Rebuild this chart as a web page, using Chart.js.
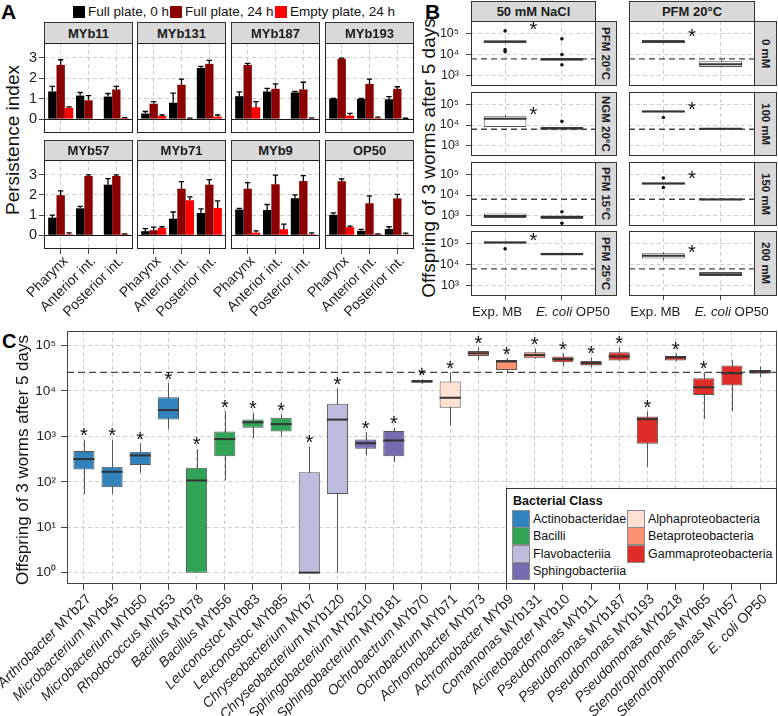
<!DOCTYPE html>
<html>
<head>
<meta charset="utf-8">
<script src="https://cdn.jsdelivr.net/npm/chart.js@4.4.1/dist/chart.umd.min.js"></script>
<style>
html,body{margin:0;padding:0;background:#fff;}
#root{position:relative;width:778px;height:716px;overflow:hidden;background:#fff;font-family:"Liberation Sans",Arial,Helvetica,sans-serif;color:#111;}
#root canvas{position:absolute;}
.lbl{position:absolute;white-space:nowrap;line-height:1;}
.strip{position:absolute;box-sizing:border-box;background:#d9d9d9;border:1px solid #333;font-weight:bold;color:#1a1a1a;display:flex;align-items:center;justify-content:center;white-space:nowrap;overflow:hidden;}
.vstrip{writing-mode:vertical-rl;}
.ytitle{position:absolute;white-space:nowrap;transform:translate(-50%,-50%) rotate(-90deg);line-height:1;color:#111;}
.key{position:absolute;box-sizing:border-box;border:1px solid #8a8a8a;}
.panelLetter{position:absolute;font-weight:bold;line-height:1;color:#000;}
</style>
</head>
<body>
<div id="root"></div>
<script>
// ======================= DATA =======================
// ---- Panel A ----
const regionsA = ["Pharynx", "Anterior int.", "Posterior int."];
const strainsA = ["MYb11", "MYb131", "MYb187", "MYb193", "MYb57", "MYb71", "MYb9", "OP50"];
const seriesA = ["Full plate, 0 h", "Full plate, 24 h", "Empty plate, 24 h"];
const full0hMean   = [[1.35,1.15,1.10],[0.27,0.80,2.50],[1.12,1.35,1.30],[1.00,0.98,0.97],[0.87,1.33,2.50],[0.20,0.82,1.10],[1.27,1.25,1.83],[1.01,0.22,0.31]];
const full0hUpper  = [[1.60,1.30,1.25],[0.37,1.27,2.58],[1.33,1.50,1.35],[1.01,1.01,1.10],[0.99,1.43,2.80],[0.33,1.15,1.30],[1.33,1.52,2.00],[1.11,0.29,0.42]];
const full24hMean  = [[2.65,0.92,1.45],[0.75,1.68,2.70],[2.65,1.48,1.45],[2.95,1.72,1.48],[1.98,2.93,2.93],[0.25,2.30,2.50],[2.30,2.52,2.68],[2.67,1.58,1.82]];
const full24hUpper = [[2.90,1.15,1.60],[0.85,1.95,2.87],[2.72,1.72,1.80],[2.98,1.95,1.58],[2.19,2.98,2.98],[0.40,2.65,2.75],[2.60,2.97,2.95],[2.78,1.95,2.02]];
const empty24hMean = [[0.55,0.00,0.05],[0.15,0.02,0.12],[0.58,0.00,0.03],[0.17,0.05,0.02],[0.05,0.00,0.05],[0.36,1.73,1.35],[0.13,0.30,0.05],[0.40,0.05,0.04]];
const empty24hUpper= [[0.60,0.00,0.07],[0.20,0.05,0.20],[0.85,0.00,0.06],[0.28,0.10,0.04],[0.12,0.00,0.07],[0.42,1.90,1.70],[0.22,0.55,0.12],[0.45,0.07,0.10]];
const colorsA = ["#000000", "#8B0000", "#FF0000"];
const ticksA = [0, 1, 2, 3];

// ---- Panel B ----
const groupsB = [[{t:"Exp. MB"}], [{t:"E. coli ", it:true}, {t:"OP50"}]];
const colStripsB = ["50 mM NaCl", "PFM 20°C"];
const rowStripsB = [["PFM 20°C", "NGM 20°C", "PFM 15°C", "PFM 25°C"], ["0 mM", "100 mM", "150 mM", "200 mM"]];
// facet order: col0 rows0-3, col1 rows0-3 ; [min, q1, median, q3, max]
const boxExpMB = [
  [34000, 34000, 40000, 47000, 47000],
  [8100, 8100, 20000, 26000, 30000],
  [800, 800, 1000, 1300, 1400],
  [98000, 98000, 110000, 122000, 122000],
  [34000, 34000, 40000, 48000, 48000],
  [41000, 41000, 45000, 49000, 49000],
  [32000, 32000, 36000, 40000, 40000],
  [16000, 19500, 26000, 34000, 38000]
];
const boxOP50 = [
  [5100, 5100, 6000, 6800, 6800],
  [5600, 5600, 7000, 8000, 8000],
  [720, 720, 900, 1050, 1050],
  [27000, 27000, 31000, 36000, 36000],
  [2400, 2600, 3500, 4800, 5500],
  [6000, 6000, 6600, 7200, 7200],
  [5700, 5700, 6200, 6800, 6800],
  [2900, 2900, 3500, 4500, 4500]
];
const outExpMB = [[130000, 17000, 13500], [], [], [55000], [], [23000], [65000, 23000], []];
const outOP50  = [[55000, 10000, 3300], [15000], [1600, 450], [], [], [], [], []];
const starB = [245000, 55000, null, 220000, 117000, 95000, 107000, 65000];
const refLineB = 6300;
const ticksB = [1e3, 1e4, 1e5];

// ---- Panel C ----
const genusC = ["Arthrobacter","Microbacterium","Microbacterium","Rhodococcus","Bacillus","Bacillus","Leuconostoc","Leuconostoc","Chryseobacterium","Chryseobacterium","Sphingobacterium","Sphingobacterium","Ochrobactrum","Ochrobactrum","Achromobacter","Achromobacter","Comamonas","Acinetobacter","Pseudomonas","Pseudomonas","Pseudomonas","Pseudomonas","Stenotrophomonas","Stenotrophomonas","E. coli"];
const strainC = ["MYb27","MYb45","MYb50","MYb53","MYb78","MYb56","MYb83","MYb85","MYb7","MYb120","MYb210","MYb181","MYb70","MYb71","MYb73","MYb9","MYb131","MYb10","MYb11","MYb187","MYb193","MYb218","MYb65","MYb57","OP50"];
const classC = [0,0,0,0,1,1,1,1,2,2,3,3,4,4,5,5,5,6,6,6,6,6,6,6,6];
const minC = [54,54,158,1445,1,107,912,1000,1,1,380,269,14454,1738,47863,24547,51286,34674,33113,46774,214,45709,2399,3631,19953];
const q1C  = [186,76,234,2344,1,363,1549,1288,1,54,537,363,15136,4266,58884,28840,52481,42658,36308,46774,692,46774,8128,13183,23988];
const medC = [316,166,380,3800,107,871,2042,1862,1,2344,708,813,16218,7079,67608,44668,61660,50119,40738,57544,2399,54954,12023,24547,26915];
const q3C  = [479,214,457,7244,204,1288,2344,2570,162,5248,851,1318,17378,16218,75858,47863,70795,57544,45709,70795,2754,58884,19055,36308,28840];
const maxC = [830,830,708,14791,525,3548,3311,3090,589,11482,1230,1549,18197,25704,91201,52481,85114,67608,54954,91201,3548,67608,25704,47863,34674];
const starC = [1,1,1,1,1,1,1,1,1,1,1,1,1,1,1,1,1,1,1,1,1,1,1,0,0];
const classNames = ["Actinobacteridae","Bacilli","Flavobacteriia","Sphingobacteriia","Alphaproteobacteria","Betaproteobacteria","Gammaproteobacteria"];
const classColors = ["#3182bd","#31a354","#bcbddc","#756bb1","#fee0d2","#fc9272","#de2d26"];
const refLineC = 25700;
const ticksC = [1, 10, 100, 1e3, 1e4, 1e5];

// ======================= HELPERS =======================
const FONT = '"Liberation Sans", Arial, Helvetica, sans-serif';
const SUP = ["⁰","¹","²","³","⁴","⁵","⁶"];
const supFmt = v => "10" + SUP[Math.round(Math.log10(v))];
const GRID = "#cdcdcd";
const root = document.getElementById("root");

function el(tag, cls, css, text) {
  const e = document.createElement(tag);
  if (cls) e.className = cls;
  Object.assign(e.style, css || {});
  if (text != null) e.textContent = text;
  root.appendChild(e);
  return e;
}
function strip(x0, y0, x1, y1, text, size, vertical) {
  el("div", "strip" + (vertical ? " vstrip" : ""), {left: x0 + "px", top: y0 + "px", width: (x1 - x0) + "px", height: (y1 - y0) + "px", fontSize: size + "px"}, text);
}
function ytitle(cx, cy, text, size) {
  el("div", "ytitle", {left: cx + "px", top: cy + "px", fontSize: size + "px"}, text);
}

function drawParts(ctx, parts, size, x, y, align) {
  const widths = parts.map(p => { ctx.font = (p.it ? "italic " : "") + size + "px " + FONT; return ctx.measureText(p.t).width; });
  const total = widths.reduce((a, b) => a + b, 0);
  let cx = align === "right" ? x - total : x - total / 2;
  parts.forEach((p, i) => { ctx.font = (p.it ? "italic " : "") + size + "px " + FONT; ctx.fillText(p.t, cx, y); cx += widths[i]; });
}

const framePlugin = {
  id: "frame",
  afterDraw(chart, args, opts) {
    const {left, top, right, bottom} = chart.chartArea;
    const ctx = chart.ctx;
    ctx.save();
    ctx.strokeStyle = opts.color || "#333";
    ctx.lineWidth = 1;
    ctx.strokeRect(left + 0.5, top + 0.5, right - left - 1, bottom - top - 1);
    ctx.restore();
  }
};

// x labels drawn at the x scale tick positions
function xLabelPlugin(labels, size, rotated, dx, dy, shifts) {
  return {
    id: "xlabels",
    afterDraw(chart) {
      const ctx = chart.ctx, xs = chart.scales.x, bottom = chart.chartArea.bottom;
      ctx.save();
      ctx.fillStyle = "#222";
      ctx.textBaseline = "middle";
      ctx.textAlign = "left";
      labels.forEach((parts, i) => {
        const x = xs.getPixelForValue(i);
        if (rotated) {
          ctx.save();
          ctx.translate(x + dx, bottom + dy);
          ctx.rotate(-Math.PI / 4);
          drawParts(ctx, parts, size, 0, 0, "right");
          ctx.restore();
        } else {
          drawParts(ctx, parts, size, x + (shifts ? shifts[i] : 0), bottom + dy, "center");
        }
      });
      ctx.restore();
    }
  };
}

function buildChart(cfg) {
  const [x0, y0, x1, y1] = cfg.rect, m = cfg.m;
  const W = x1 - x0 + m.l + m.r, H = y1 - y0 + m.t + m.b;
  const c = document.createElement("canvas");
  c.width = W; c.height = H;
  Object.assign(c.style, {left: (x0 - m.l) + "px", top: (y0 - m.t) + "px", width: W + "px", height: H + "px"});
  root.appendChild(c);
  return new Chart(c.getContext("2d"), {
    type: "bar",
    data: {datasets: cfg.datasets},
    options: {
      responsive: false, animation: false, events: [],
      layout: {padding: {left: 0, top: m.t, right: m.r, bottom: 0}},
      plugins: {legend: {display: false}, tooltip: {enabled: false}, frame: {color: cfg.frameColor || "#333"}},
      scales: {
        x: {
          type: "linear", min: cfg.xMin, max: cfg.xMax, offset: false,
          afterBuildTicks: s => { s.ticks = cfg.xTicks.map(v => ({value: v})); },
          afterFit: s => { s.height = m.b; s.paddingLeft = 0; s.paddingRight = 0; },
          ticks: {display: false},
          grid: {offset: false, color: GRID, lineWidth: 1, drawTicks: !!cfg.xTickMarks, tickLength: cfg.xTickLen || 5, tickColor: "#444", tickBorderDash: [0, 0], tickWidth: 1},
          border: {display: false, dash: [4, 3]}
        },
        y: {
          type: cfg.yType, min: cfg.yMin, max: cfg.yMax,
          afterBuildTicks: s => { s.ticks = cfg.yTicks.map(v => ({value: v})); },
          afterFit: s => { s.width = m.l; s.paddingTop = 0; s.paddingBottom = 0; },
          ticks: {display: !!cfg.yLabels, autoSkip: false, callback: cfg.yFmt || (v => String(v)), font: {family: FONT, size: cfg.yFontSize || 14}, color: "#222", padding: cfg.yPad || 3},
          grid: {color: GRID, lineWidth: 1, drawTicks: !!cfg.yTickMarks, tickLength: cfg.yTickLen || 5, tickColor: "#444", tickBorderDash: [0, 0], tickWidth: 1},
          border: {display: false, dash: [4, 3]}
        }
      }
    },
    plugins: [framePlugin].concat(cfg.plugins || [])
  });
}

function errPlugin(means, uppers) {
  return {
    id: "errbars",
    afterDatasetsDraw(chart) {
      const ctx = chart.ctx, ys = chart.scales.y, ca = chart.chartArea;
      ctx.save();
      const y0 = Math.round(ys.getPixelForValue(0)) + 0.5;
      ctx.strokeStyle = "#1a1a1a"; ctx.lineWidth = 1;
      ctx.beginPath(); ctx.moveTo(ca.left, y0); ctx.lineTo(ca.right, y0); ctx.stroke();
      ctx.strokeStyle = "#000"; ctx.lineWidth = 1.3;
      for (let d = 0; d < means.length; d++) {
        chart.getDatasetMeta(d).data.forEach((bar, i) => {
          const mv = means[d][i], uv = uppers[d][i];
          if (!(uv > mv + 0.001)) return;
          const yt = ys.getPixelForValue(uv), ym = ys.getPixelForValue(mv), hw = bar.width * 0.32;
          ctx.beginPath();
          ctx.moveTo(bar.x, ym); ctx.lineTo(bar.x, yt);
          ctx.moveTo(bar.x - hw, yt); ctx.lineTo(bar.x + hw, yt);
          ctx.stroke();
        });
      }
      ctx.restore();
    }
  };
}

// stats: array of [min,q1,med,q3,max] per x index
function boxPlugin(o) {
  return {
    id: "boxes",
    beforeDatasetsDraw(chart) {
      const ctx = chart.ctx, xs = chart.scales.x, ys = chart.scales.y;
      ctx.save(); ctx.strokeStyle = "#555"; ctx.lineWidth = 1;
      o.stats.forEach((s, i) => {
        const x = Math.round(xs.getPixelForValue(i)) + 0.5;
        ctx.beginPath(); ctx.moveTo(x, ys.getPixelForValue(s[0])); ctx.lineTo(x, ys.getPixelForValue(s[4])); ctx.stroke();
      });
      ctx.restore();
    },
    afterDatasetsDraw(chart) {
      const ctx = chart.ctx, xs = chart.scales.x, ys = chart.scales.y, ca = chart.chartArea;
      ctx.save();
      const yr = ys.getPixelForValue(o.ref);
      ctx.strokeStyle = "#444"; ctx.lineWidth = 1.3; ctx.setLineDash(o.refDash || [6, 4]);
      ctx.beginPath(); ctx.moveTo(ca.left, yr); ctx.lineTo(ca.right, yr); ctx.stroke();
      ctx.setLineDash([]);
      ctx.strokeStyle = "#333"; ctx.lineWidth = 2;
      chart.getDatasetMeta(0).data.forEach((bar, i) => {
        const y = ys.getPixelForValue(o.stats[i][2]);
        ctx.beginPath(); ctx.moveTo(bar.x - bar.width / 2, y); ctx.lineTo(bar.x + bar.width / 2, y); ctx.stroke();
      });
      ctx.fillStyle = "#111";
      (o.outliers || []).forEach((list, i) => {
        list.forEach(v => { ctx.beginPath(); ctx.arc(xs.getPixelForValue(i), ys.getPixelForValue(v), 1.8, 0, Math.PI * 2); ctx.fill(); });
      });
      ctx.font = o.starSize + "px " + FONT; ctx.textAlign = "center"; ctx.textBaseline = "alphabetic";
      (o.stars || []).forEach(s => {
        const yc = s.px != null ? ys.getPixelForValue(s.y) - s.px : ys.getPixelForValue(s.y);
        ctx.fillText("*", xs.getPixelForValue(s.x), yc + 0.57 * o.starSize);
      });
      ctx.restore();
    }
  };
}

// ======================= PANEL LETTERS =======================
el("div", "panelLetter", {left: "1px", top: "1px", fontSize: "21px"}, "A");
el("div", "panelLetter", {left: "425px", top: "1px", fontSize: "21px"}, "B");
el("div", "panelLetter", {left: "2px", top: "331px", fontSize: "20px"}, "C");

// ======================= PANEL A =======================
const A_X = [[44,133],[137,226],[231,320],[325,414]];
const A_Y = [[43,133],[160,249]];
const A_STRIP = [22, 140];
const legendA_X = [[73,88],[170,185],[275,290]];
seriesA.forEach((name, s) => {
  el("div", "", {position: "absolute", left: legendA_X[s][0] + "px", top: "6px", width: "12px", height: "12px", background: colorsA[s]});
  el("div", "lbl", {left: legendA_X[s][1] + "px", top: "5px", fontSize: "13.5px"}, name);
});
ytitle(12, 140, "Persistence index", 19);

strainsA.forEach((strain, k) => {
  const r = Math.floor(k / 4), c = k % 4;
  const rect = [A_X[c][0], A_Y[r][0], A_X[c][1], A_Y[r][1]];
  strip(A_X[c][0], A_STRIP[r], A_X[c][1], A_Y[r][0] + 1, strain, 13, false);
  const means = [full0hMean[k], full24hMean[k], empty24hMean[k]];
  const uppers = [full0hUpper[k], full24hUpper[k], empty24hUpper[k]];
  const plugins = [errPlugin(means, uppers)];
  if (r === 1) plugins.push(xLabelPlugin(regionsA.map(t => [{t}]), 14, true, 5, 10));
  buildChart({
    rect, m: {l: c === 0 ? 44 : 70, t: 0, r: 0, b: r === 1 ? 90 : 0},
    datasets: means.map((mv, s) => ({
      data: regionsA.map((_, i) => ({x: i, y: mv[i]})),
      backgroundColor: colorsA[s], borderWidth: 0, categoryPercentage: 0.9, barPercentage: 1
    })),
    xMin: -0.6, xMax: 2.6, xTicks: [0, 1, 2], xTickMarks: r === 1,
    yType: "linear", yMin: -0.68, yMax: 3.72, yTicks: ticksA, yLabels: c === 0, yTickMarks: c === 0, yFontSize: 14.5, yPad: 2,
    frameColor: "#222", plugins
  });
});

// ======================= PANEL B =======================
const B_X = [[471,596],[629,755]];
const B_RS = [[596,617],[755,777]];
const B_Y = [[21,86],[92,156],[162,226],[231,296]];
ytitle(428, 158, "Offspring of 3 worms after 5 days", 19);
colStripsB.forEach((t, c) => strip(B_X[c][0], 1, B_X[c][1], 22, t, 13, false));
for (let k = 0; k < 8; k++) {
  const c = Math.floor(k / 4), r = k % 4;
  strip(B_RS[c][0] - 1, B_Y[r][0], B_RS[c][1], B_Y[r][1], rowStripsB[c][r], 11.5, true);
  const stats = [boxExpMB[k], boxOP50[k]];
  const plugins = [boxPlugin({
    stats, outliers: [outExpMB[k], outOP50[k]], ref: refLineB, refDash: [6, 4],
    stars: starB[k] ? [{x: 0.5, y: starB[k]}] : [], starSize: 20
  })];
  if (r === 3) plugins.push(xLabelPlugin(groupsB, 13.3, false, 0, 16, [-8, 11]));
  buildChart({
    rect: [B_X[c][0], B_Y[r][0], B_X[c][1], B_Y[r][1]],
    m: {l: c === 0 ? 60 : 20, t: 0, r: r === 3 ? 22 : 0, b: r === 3 ? 30 : 0},
    datasets: [{
      data: stats.map((s, i) => ({x: i, y: [s[1], s[3]]})),
      backgroundColor: "#ffffff", borderColor: "#555", borderWidth: 1, borderSkipped: false,
      categoryPercentage: 1, barPercentage: 0.75
    }],
    xMin: -0.6, xMax: 1.6, xTicks: [0, 1], xTickMarks: r === 3, xTickLen: 4,
    yType: "logarithmic", yMin: Math.pow(10, 2.52), yMax: Math.pow(10, 5.58), yTicks: ticksB,
    yLabels: c === 0, yTickMarks: c === 0, yFmt: supFmt, yFontSize: 12.5, yPad: 7,
    frameColor: "#333", plugins
  });
}

// ======================= PANEL C =======================
ytitle(22, 460, "Offspring of 3 worms after 5 days", 17);
const statsC = minC.map((v, i) => [minC[i], q1C[i], medC[i], q3C[i], maxC[i]]);
const labelsC = genusC.map((g, i) => [{t: g + " ", it: true}, {t: strainC[i]}]);
buildChart({
  rect: [67, 331, 777, 584], m: {l: 67, t: 0, r: 1, b: 132},
  datasets: [{
    data: statsC.map((s, i) => ({x: i, y: [s[1], s[3]]})),
    backgroundColor: classC.map(k => classColors[k]), borderColor: "#555", borderWidth: 1, borderSkipped: false,
    categoryPercentage: 1, barPercentage: 0.75
  }],
  xMin: -0.6, xMax: 24.6, xTicks: statsC.map((_, i) => i), xTickMarks: true, xTickLen: 6,
  yType: "logarithmic", yMin: Math.pow(10, -0.25), yMax: Math.pow(10, 5.32), yTicks: ticksC,
  yLabels: true, yTickMarks: true, yFmt: supFmt, yFontSize: 13.5, yPad: 5, yTickLen: 6,
  frameColor: "#444",
  plugins: [
    boxPlugin({stats: statsC, ref: refLineC, refDash: [7, 4],
      stars: statsC.map((s, i) => starC[i] ? {x: i, y: s[4], px: 9} : null).filter(Boolean), starSize: 20}),
    xLabelPlugin(labelsC, 14, true, 5, 13)
  ]
});

// legend C
el("div", "", {position: "absolute", left: "506px", top: "488px", width: "271px", height: "96px", boxSizing: "border-box", border: "1px solid #333", background: "#fff"});
el("div", "lbl", {left: "513px", top: "495px", fontSize: "12.5px", fontWeight: "bold"}, "Bacterial Class");
classNames.forEach((name, i) => {
  const col = i < 4 ? 0 : 1, row = i < 4 ? i : i - 4;
  const kx = col === 0 ? 512 : 627, lx = col === 0 ? 533 : 648;
  const ky = 510 + row * 17.3;
  el("div", "key", {left: kx + "px", top: ky + "px", width: "18px", height: "18px", background: classColors[i]});
  el("div", "lbl", {left: lx + "px", top: (ky + 3) + "px", fontSize: "12.5px"}, name);
});
</script>
</body>
</html>
